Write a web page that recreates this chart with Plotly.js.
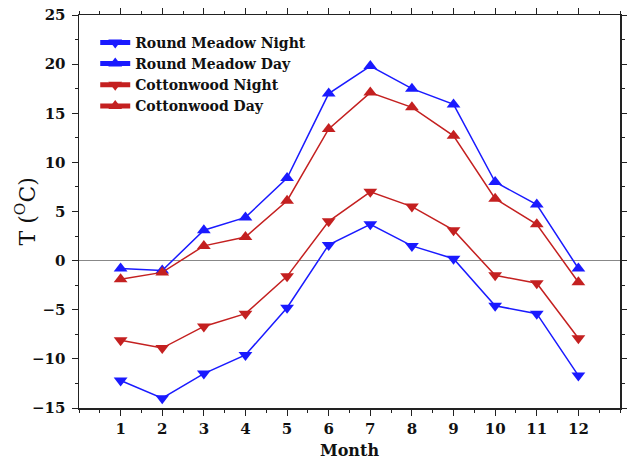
<!DOCTYPE html>
<html>
<head>
<meta charset="utf-8">
<script src="https://cdn.plot.ly/plotly-3.0.1.min.js"></script>
<style>html,body{margin:0;padding:0;background:#fff;}</style>
</head>
<body>
<div id="chart" style="width:627px;height:460px;"></div>
<script>
const months = [1,2,3,4,5,6,7,8,9,10,11,12];
const roundMeadowNight = [-12.2,-14.0,-11.5,-9.6,-4.8,1.6,3.7,1.5,0.2,-4.6,-5.4,-11.7];
const roundMeadowDay = [-0.8,-1.0,3.1,4.4,8.4,17.0,19.8,17.5,15.9,8.0,5.7,-0.8];
const cottonwoodNight = [-8.1,-8.9,-6.7,-5.4,-1.6,4.0,7.0,5.5,3.1,-1.5,-2.3,-7.9];
const cottonwoodDay = [-1.9,-1.2,1.5,2.4,6.1,13.4,17.1,15.6,12.7,6.3,3.7,-2.2];
const tickLabels = ["1","2","3","4","5","6","7","8","9","10","11","12"];
const yTitle = 'T (<sup>O</sup>C)';

const blue = '#1a1aff';
const red = '#c42020';
function tr(y, name, color, sym){
  return {x: months, y: y, name: name, type:'scatter', mode:'lines+markers',
    line:{color:color, width:1.5}, marker:{symbol:sym, size:12, color:color}};
}
const data = [
  tr(roundMeadowNight,'Round Meadow Night',blue,'triangle-down'),
  tr(roundMeadowDay,'Round Meadow Day',blue,'triangle-up'),
  tr(cottonwoodNight,'Cottonwood Night',red,'triangle-down'),
  tr(cottonwoodDay,'Cottonwood Day',red,'triangle-up')
];
const fontFam = '"DejaVu Serif", "Liberation Serif", serif';
const layout = {
  width:627, height:460,
  margin:{l:79, r:7, t:15, b:52},
  paper_bgcolor:'#fff', plot_bgcolor:'#fff',
  font:{family:fontFam, color:'#111', size:14},
  showlegend:true,
  legend:{x:0.03, y:0.97, xanchor:'left', yanchor:'top', bgcolor:'rgba(0,0,0,0)',
    font:{family:fontFam, size:14, weight:'bold', color:'#111'}, tracegroupgap:0, itemsizing:'constant'},
  xaxis:{range:[0,13], tickvals:months, ticktext:tickLabels, showgrid:false, zeroline:false,
    showline:true, linecolor:'#222', linewidth:1.5, mirror:'ticks', ticks:'outside', ticklen:6, tickcolor:'#222',
    minor:{dtick:0.5, ticks:'outside', ticklen:3, tickcolor:'#222'},
    tickfont:{family:fontFam, size:15, weight:'bold', color:'#111'},
    title:{text:'Month', font:{family:fontFam, size:16, weight:'bold', color:'#111'}, standoff:10}},
  yaxis:{range:[-15,25], tickvals:[-15,-10,-5,0,5,10,15,20,25], showgrid:false,
    zeroline:true, zerolinecolor:'#888', zerolinewidth:1.5,
    showline:true, linecolor:'#222', linewidth:1.5, mirror:'ticks', ticks:'outside', ticklen:6, tickcolor:'#222',
    ticklabelstandoff:3,
    minor:{dtick:2.5, ticks:'outside', ticklen:3, tickcolor:'#222'},
    tickfont:{family:fontFam, size:15, weight:'bold', color:'#111'}},
  annotations:[{text:yTitle, xref:'paper', yref:'paper', x:-0.1, y:0.5, xanchor:'center', yanchor:'middle',
    textangle:-90, showarrow:false, font:{family:fontFam, size:22, color:'#111'}}]
};
Plotly.newPlot('chart', data, layout, {displayModeBar:false, staticPlot:true});
</script>
</body>
</html>
